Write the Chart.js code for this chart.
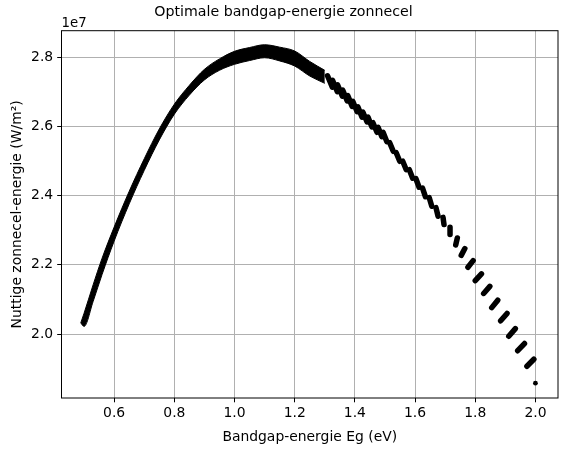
<!DOCTYPE html>
<html>
<head>
<meta charset="utf-8">
<script src="https://cdn.jsdelivr.net/npm/chart.js@4.4.1/dist/chart.umd.min.js"></script>
<style>
html,body{margin:0;padding:0;background:#fff;}
#wrap{width:567px;height:453px;}
</style>
</head>
<body>
<div id="wrap"><canvas id="c" width="567" height="453"></canvas></div>
<script>
// ---- tick labels ----
const xTickValues = [0.6, 0.8, 1.0, 1.2, 1.4, 1.6, 1.8, 2.0];
const yTickValues = [2.0e7, 2.2e7, 2.4e7, 2.6e7, 2.8e7];

// ---- dense part of the point cloud (Eg 0.5 - 1.3): upper and lower edge of the band ----
const bandEg    = [0.489, 0.50, 0.53, 0.56, 0.60, 0.65, 0.70, 0.75, 0.80, 0.85, 0.90, 0.95, 1.00, 1.05, 1.10, 1.15, 1.20, 1.25, 1.30];
const bandUpper = [2.032e7, 2.060e7, 2.142e7, 2.2194e7, 2.3092e7, 2.4127e7, 2.5068e7, 2.5929e7, 2.6645e7, 2.7192e7, 2.7653e7, 2.7955e7, 2.8174e7, 2.8283e7, 2.8364e7, 2.8294e7, 2.8182e7, 2.7881e7, 2.7624e7];
const bandLower = [2.032e7, 2.022e7, 2.094e7, 2.1726e7, 2.2688e7, 2.3763e7, 2.4732e7, 2.5611e7, 2.6355e7, 2.6908e7, 2.7347e7, 2.7625e7, 2.7798e7, 2.7907e7, 2.7988e7, 2.7896e7, 2.7748e7, 2.7459e7, 2.7248e7];

// ---- separated point groups (Eg 1.3 - 2.0): first and last point of each group ----
const segEgStart = [1.3091,1.3258,1.3424,1.3594,1.3763,1.3930,1.4099,1.4265,1.4435,1.4601,1.4771,1.4937,1.5157,1.5373,1.5590,1.5809,1.6029,1.6248,1.6471,1.6694,1.6929,1.7162,1.7351,1.7534,1.7757,1.8000,1.8279,1.8548,1.8844,1.9114,1.9410,1.9717];
const segPStart  = [2.7466e7,2.7336e7,2.7206e7,2.7055e7,2.6893e7,2.6729e7,2.6570e7,2.6419e7,2.6272e7,2.6110e7,2.5977e7,2.5833e7,2.5532e7,2.5243e7,2.4997e7,2.4751e7,2.4491e7,2.4217e7,2.3942e7,2.3653e7,2.3373e7,2.3084e7,2.2575e7,2.2275e7,2.1931e7,2.1543e7,2.1173e7,2.0763e7,2.0382e7,1.9936e7,1.9517e7,1.9069e7];
const segEgEnd   = [1.3250,1.3417,1.3583,1.3746,1.3909,1.4075,1.4238,1.4405,1.4567,1.4734,1.4897,1.5063,1.5275,1.5491,1.5707,1.5920,1.6133,1.6346,1.6556,1.6765,1.6962,1.7162,1.7405,1.7654,1.7930,1.8206,1.8485,1.8748,1.9057,1.9333,1.9636,1.9947];
const segPEnd    = [2.7136e7,2.7005e7,2.6875e7,2.6737e7,2.6581e7,2.6427e7,2.6268e7,2.6130e7,2.5988e7,2.5832e7,2.5705e7,2.5560e7,2.5283e7,2.4994e7,2.4749e7,2.4503e7,2.4243e7,2.3968e7,2.3694e7,2.3405e7,2.3165e7,2.2876e7,2.2777e7,2.2471e7,2.2121e7,2.1740e7,2.1376e7,2.0977e7,2.0595e7,2.0156e7,1.9725e7,1.9272e7];

// ---- isolated last point ----
const lastEg = [2.0];
const lastP  = [1.858e7];

const FONT = "'DejaVu Sans', sans-serif";
const LABEL_SIZE = 13.9;
Chart.defaults.color = '#000';
Chart.defaults.font.family = FONT;

const datasets = [];
datasets.push({
  data: bandEg.map((x, i) => ({x, y: bandUpper[i]})),
  borderColor: '#000', backgroundColor: '#000', borderWidth: 1,
  fill: '+1', pointRadius: 0, cubicInterpolationMode: 'monotone'
});
datasets.push({
  data: bandEg.map((x, i) => ({x, y: bandLower[i]})),
  borderColor: '#000', backgroundColor: '#000', borderWidth: 1,
  fill: false, pointRadius: 0, cubicInterpolationMode: 'monotone'
});
segEgStart.forEach((x0, i) => {
  datasets.push({
    data: [{x: x0, y: segPStart[i]}, {x: segEgEnd[i], y: segPEnd[i]}],
    borderColor: '#000', borderWidth: 5.5, borderCapStyle: 'round',
    fill: false, pointRadius: 0
  });
});
datasets.push({
  data: lastEg.map((x, i) => ({x, y: lastP[i]})),
  showLine: false, pointRadius: 2.4, pointBackgroundColor: '#000', pointBorderWidth: 0
});

const framePlugin = {
  id: 'frame',
  afterDatasetsDraw(chart) {
    const {ctx, chartArea: a} = chart;
    ctx.save();
    ctx.strokeStyle = '#000';
    ctx.lineWidth = 1;
    ctx.strokeRect(a.left, a.top, a.right - a.left, a.bottom - a.top);
    ctx.fillStyle = '#000';
    ctx.font = "13.3px " + FONT;
    ctx.textAlign = 'left';
    ctx.textBaseline = 'alphabetic';
    ctx.fillText('1e7', a.left, a.top - 4);
    ctx.restore();
  }
};

new Chart(document.getElementById('c'), {
  type: 'line',
  data: {datasets},
  plugins: [framePlugin],
  options: {
    responsive: false,
    animation: false,
    events: [],
    layout: {padding: 0},
    plugins: {
      legend: {display: false},
      tooltip: {enabled: false},
      title: {
        display: true,
        text: 'Optimale bandgap-energie zonnecel',
        color: '#000',
        font: {size: 14.2, weight: 'normal', family: FONT},
        padding: {top: 4, bottom: 9.66}
      }
    },
    scales: {
      x: {
        type: 'linear', min: 0.425, max: 2.075,
        afterBuildTicks: s => { s.ticks = xTickValues.map(v => ({value: v})); },
        afterFit: s => { s.height = 55; },
        ticks: {font: {size: LABEL_SIZE, family: FONT}, color: '#000', padding: 2.8,
                maxRotation: 0, callback: v => v.toFixed(1)},
        grid: {color: '#b0b0b0', lineWidth: 1, tickLength: 4.3, tickColor: '#000', tickWidth: 1},
        border: {display: false},
        title: {display: true, text: 'Bandgap-energie Eg (eV)', color: '#000',
                font: {size: LABEL_SIZE, family: FONT}, padding: {top: 0, bottom: 7.7}}
      },
      y: {
        type: 'linear', min: 1.815e7, max: 2.877e7,
        afterBuildTicks: s => { s.ticks = yTickValues.map(v => ({value: v})); },
        afterFit: s => { s.width = 61.5; },
        ticks: {font: {size: LABEL_SIZE, family: FONT}, color: '#000', padding: 4,
                callback: v => (v / 1e7).toFixed(1)},
        grid: {color: '#b0b0b0', lineWidth: 1, tickLength: 4.3, tickColor: '#000', tickWidth: 1},
        border: {display: false},
        title: {display: true, text: 'Nuttige zonnecel-energie (W/m²)', color: '#000',
                font: {size: LABEL_SIZE, family: FONT}, padding: {top: 8.7, bottom: 0}}
      },
      rightSpace: {
        type: 'linear', position: 'right', display: true,
        afterFit: s => { s.width = 9; },
        grid: {display: false, drawTicks: false},
        ticks: {display: false},
        border: {display: false},
        title: {display: false}
      }
    }
  }
});
</script>
</body>
</html>
